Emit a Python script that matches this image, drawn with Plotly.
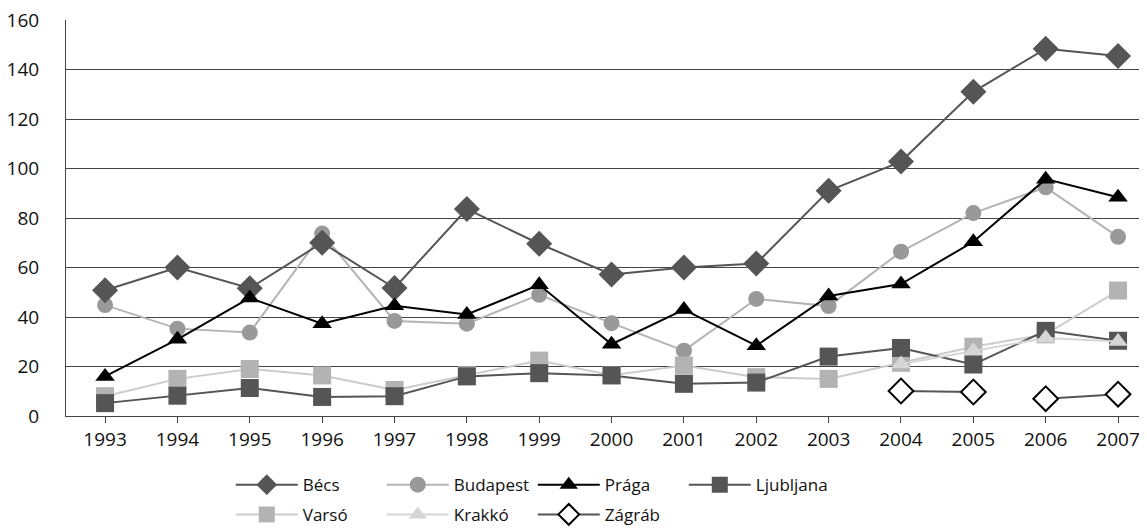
import plotly.graph_objects as go

years = list(range(1993, 2008))

becs = [50.8, 60.0, 51.6, 70.0, 51.7, 83.6, 69.6, 57.2, 60.0, 61.6, 91.0, 102.8, 131.0, 148.4, 145.5]
budapest = [44.8, 35.3, 33.7, 73.7, 38.4, 37.3, 49.0, 37.5, 26.4, 47.3, 44.4, 66.4, 82.0, 92.4, 72.4]
praga = [16.0, 31.0, 47.7, 37.3, 44.5, 41.0, 53.0, 29.0, 43.0, 28.4, 48.5, 53.3, 70.4, 95.7, 88.4]
ljubljana = [5.2, 8.2, 11.3, 7.7, 8.0, 16.0, 17.3, 16.4, 13.0, 13.5, 24.0, 27.5, 20.8, 34.4, 30.4]
varso = [8.0, 15.0, 19.0, 16.4, 10.5, 16.5, 22.4, 16.5, 20.4, 15.7, 15.0, 21.5, 28.0, 33.0, 50.7]
krakko_years = [2004, 2005, 2006, 2007]
krakko = [21.0, 26.4, 31.5, 30.1]
zagrab_years = [2004, 2005, None, 2006, 2007]
zagrab = [10.1, 9.7, None, 7.0, 8.8]

ytick_vals = [0, 20, 40, 60, 80, 100, 120, 140, 160]

FONT = "Open Sans"
TXT = "#111111"

fig = go.Figure()

def add(name, x, y, line_color, marker_color, symbol, size, rank, legend, mline=None):
    marker = dict(symbol=symbol, size=size, color=marker_color)
    if mline:
        marker["line"] = mline
    fig.add_trace(go.Scatter(
        x=x, y=y, name=name, mode="lines+markers",
        line=dict(color=line_color, width=2),
        marker=marker, legendrank=rank, connectgaps=False, legend=legend,
    ))

add("Budapest", years, budapest, "#b4b4b4", "#999999", "circle", 16, 2, "legend")
add("Bécs", years, becs, "#555555", "#555555", "diamond", 20, 1, "legend")
add("Prága", years, praga, "#000000", "#000000", "triangle-up", 17, 3, "legend")
add("Varsó", years, varso, "#cccccc", "#b3b3b3", "square", 18, 5, "legend2")
add("Ljubljana", years, ljubljana, "#555555", "#555555", "square", 18, 4, "legend")
add("Krakkó", krakko_years, krakko, "#d6d6d6", "#d6d6d6", "triangle-up", 17, 6, "legend2")
add("Zágráb", zagrab_years, zagrab, "#555555", "#ffffff", "diamond", 19, 7, "legend2",
    mline=dict(color="#000000", width=2))

legend_common = dict(
    orientation="h", xref="container", yref="container",
    x=0.1956, xanchor="left", yanchor="middle",
    entrywidth=74, entrywidthmode="pixels",
    font=dict(family=FONT, size=17, color=TXT),
    traceorder="normal", itemwidth=62, bgcolor="rgba(0,0,0,0)",
)

fig.update_layout(
    width=1139, height=522,
    margin=dict(l=58, r=0, t=12, b=114),
    paper_bgcolor="white", plot_bgcolor="white",
    font=dict(family=FONT, size=19, color=TXT),
    showlegend=True,
    legend=dict(legend_common, y=0.086),
    legend2=dict(legend_common, y=0.029),
)

fig.update_xaxes(
    range=[1992.46, 2007.4], automargin=False,
    tickmode="array", tickvals=years, ticktext=[str(y) for y in years],
    showgrid=False, zeroline=False,
    showline=True, linecolor="#444444", linewidth=1,
    ticks="outside", ticklen=6, tickcolor="#444444",
    tickfont=dict(family=FONT, size=19, color=TXT),
    ticklabeloverflow="allow",
)
fig.update_yaxes(
    range=[0, 160], automargin=False,
    tickmode="array", tickvals=ytick_vals,
    showgrid=True, gridcolor="#444444", gridwidth=1,
    zeroline=False,
    showline=True, linecolor="#444444", linewidth=1,
    ticks="", ticklabelstandoff=22,
    tickfont=dict(family=FONT, size=19, color=TXT),
    ticklabeloverflow="allow",
)

fig.write_html("out.html")
